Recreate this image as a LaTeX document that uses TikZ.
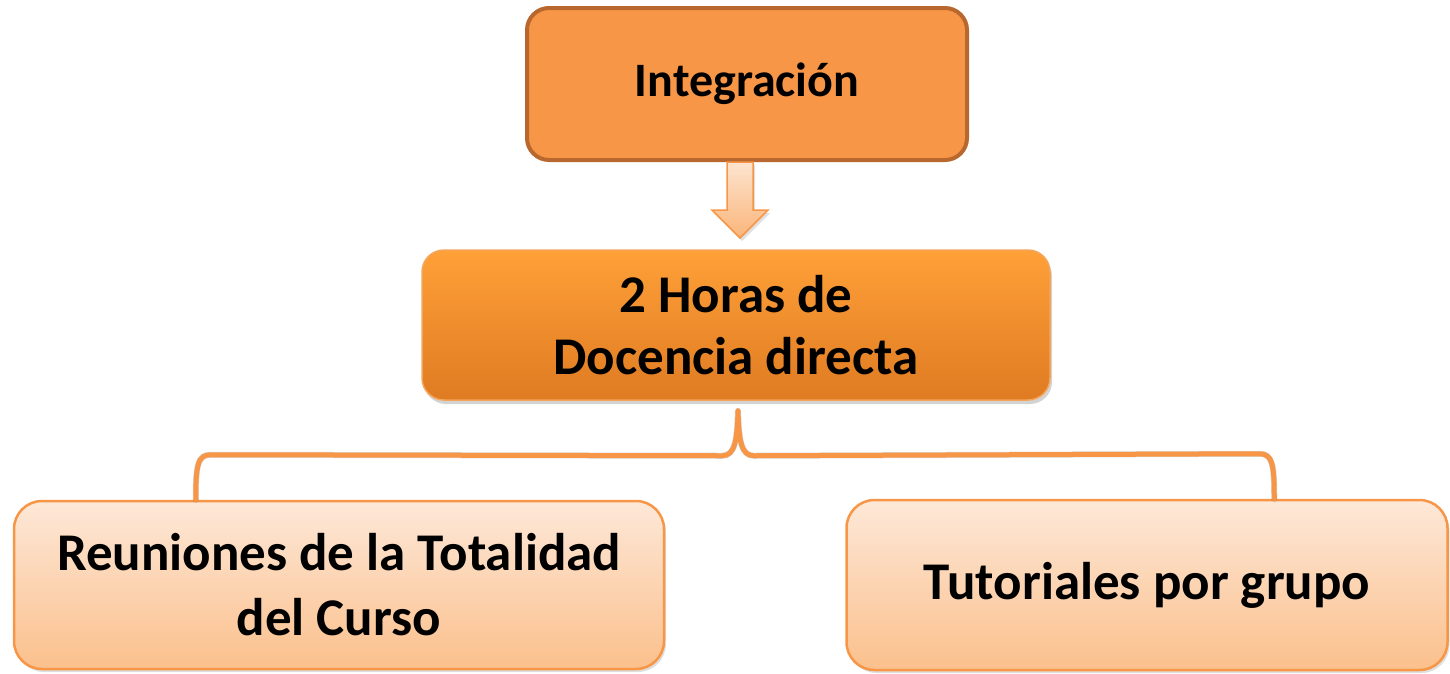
\documentclass[tikz,border=0pt]{standalone}
\usepackage{fontspec}
\setmainfont{Carlito}
\usetikzlibrary{shadows,calc}
\definecolor{ortop}{HTML}{F79646}
\definecolor{orbord}{HTML}{B8682E}
\definecolor{midtop}{HTML}{FFA038}
\definecolor{midbot}{HTML}{DF7B22}
\definecolor{midbord}{HTML}{F5A55A}
\definecolor{lighttop}{HTML}{FDE8D8}
\definecolor{lightbot}{HTML}{FBC08C}
\definecolor{arrtop}{HTML}{FDE4CF}
\definecolor{arrbot}{HTML}{FAB57A}
\definecolor{lineor}{HTML}{F79646}
\begin{document}
\begin{tikzpicture}[x=1pt,y=-1pt,
  txt/.style={text=black, align=center},
  topbox/.style={txt, font=\fontsize{48}{58}\selectfont\bfseries, draw=orbord, line width=4pt,
    fill=ortop, rounded corners=22pt, minimum width=440pt, minimum height=152pt, inner sep=0pt},
  midbox/.style={txt, font=\fontsize{53}{62}\selectfont\bfseries, draw=midbord, line width=1.5pt,
    top color=midtop, bottom color=midbot,
    rounded corners=22pt, minimum width=628pt, minimum height=150pt, inner sep=0pt,
    drop shadow={opacity=0.35, shadow xshift=2pt, shadow yshift=-4pt}},
  lightbox/.style={txt, font=\fontsize{53}{65}\selectfont\bfseries, draw=lineor, line width=2.5pt,
    top color=lighttop, bottom color=lightbot,
    rounded corners=28pt, inner sep=0pt,
    drop shadow={opacity=0.25, shadow xshift=2pt, shadow yshift=-3pt}},
  blockarrow/.style={draw=lineor, line width=1.5pt, top color=arrtop, bottom color=arrbot,
    line join=miter, drop shadow={opacity=0.25, shadow xshift=2pt, shadow yshift=-3pt}},
  brace/.style={draw=lineor, line width=5pt, line cap=round, line join=round},
  braceshadow/.style={draw=black, opacity=0.15, line width=6pt, line cap=round, line join=round}
]
\useasboundingbox (0,0) rectangle (1450,673);

\node[topbox] (top) at (747,84) {\raisebox{-4pt}{Integración}};
\node[midbox] (mid) at (736,325) {2 Horas de\\Docencia directa};
\node[lightbox, minimum width=650pt, minimum height=168pt] (left) at (339,585)
  {Reuniones de la Totalidad\\del Curso};
\node[lightbox, minimum width=601pt, minimum height=170pt] (right) at (1147,585)
  {\raisebox{-4pt}{Tutoriales por grupo}};

% block arrow
\coordinate (a) at ($(top.south)+(-7,0)$);
\path[blockarrow] ($(a)+(-13,0)$) -- ($(a)+(-13,48)$) -- ($(a)+(-28,48)$) -- ($(a)+(0,76)$)
  -- ($(a)+(28,48)$) -- ($(a)+(13,48)$) -- ($(a)+(13,0)$) -- cycle;

% brace
\coordinate (lb) at ($(left.north west)+(183,0)$);
\coordinate (rb) at ($(right.north west)+(429,0)$);
\coordinate (tip) at ($(mid.south)+(2,10)$);
\foreach \st/\dx/\dy in {braceshadow/1/3, brace/0/0}{
\path[\st, shift={(\dx,\dy)}] (lb) .. controls ($(lb)+(0,-35)$) and ($(lb)+(2,-45)$) .. ($(lb)+(15,-45)$)
  -- ($(tip)+(-16,45)$) .. controls ($(tip)+(-3,45)$) and ($(tip)+(-1,30)$) .. (tip)
  .. controls ($(tip)+(1,30)$) and ($(tip)+(3,45)$) .. ($(tip)+(16,45)$)
  -- ($(rb)+(-15,-45)$) .. controls ($(rb)+(-2,-45)$) and ($(rb)+(0,-35)$) .. (rb);
}
\end{tikzpicture}
\end{document}
